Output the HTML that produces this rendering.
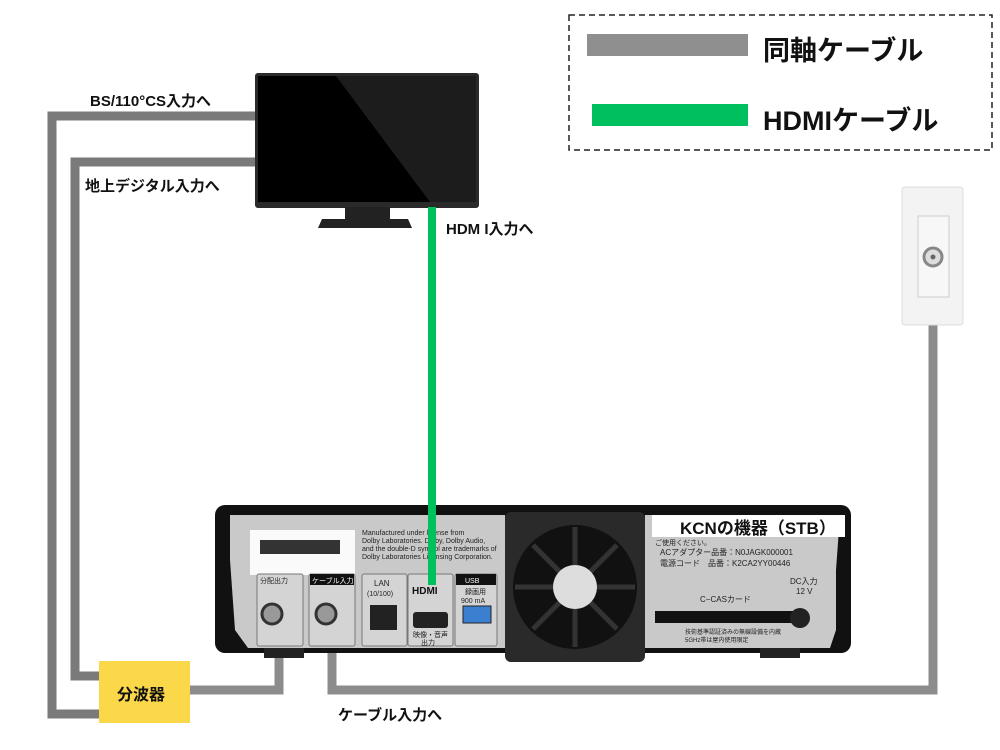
<!DOCTYPE html>
<html><head><meta charset="utf-8"><style>
body{margin:0;width:1000px;height:750px;background:#fff;position:relative;overflow:hidden;font-family:"Liberation Sans","Noto Sans CJK JP",sans-serif;}
.t{position:absolute;font-weight:bold;color:#111;white-space:nowrap;}
</style></head><body>
<svg width="1000" height="750" style="position:absolute;left:0;top:0" font-family="Liberation Sans, Noto Sans CJK JP, sans-serif">
<!-- legend -->
<rect x="569" y="15" width="423" height="135" fill="none" stroke="#222" stroke-width="1.5" stroke-dasharray="6,4"/>
<rect x="587" y="34" width="161" height="22" fill="#8f8f8f"/>
<rect x="592" y="104" width="156" height="22" fill="#00bf5f"/>
<!-- coax cables -->
<g fill="none" stroke="#7a7a7a" stroke-width="9">
<polyline points="258,116 52,116 52,714 102,714"/>
<polyline points="258,162 75,162 75,676 102,676"/>
</g>
<g fill="none" stroke="#8c8c8c" stroke-width="9">
<polyline points="188,690 279,690 279,620"/>
<polyline points="332,620 332,690 933,690 933,262"/>
</g>
<!-- wall plate -->
<rect x="902" y="187" width="61" height="138" rx="3" fill="#f3f3f3" stroke="#ddd"/>
<rect x="918" y="216" width="31" height="81" fill="#f7f7f7" stroke="#ccc"/>
<circle cx="933" cy="257" r="9" fill="#ddd" stroke="#888" stroke-width="3"/>
<circle cx="933" cy="257" r="2.5" fill="#666"/>
<!-- TV -->
<rect x="255" y="73" width="224" height="135" rx="3" fill="#2a2a2a"/>
<rect x="258" y="76" width="218" height="126" fill="#000"/>
<polygon points="336,76 476,76 476,202 430,202" fill="#1c1c1c"/>
<rect x="345" y="207" width="45" height="12" fill="#222"/>
<polygon points="322,219 408,219 412,228 318,228" fill="#222"/>
<!-- STB -->
<rect x="215" y="505" width="636" height="148" rx="10" fill="#111"/>
<rect x="264" y="648" width="40" height="10" fill="#222"/>
<rect x="760" y="648" width="40" height="10" fill="#222"/>
<polygon points="230,515 505,515 505,648 248,648 235,630 230,560" fill="#c9c9c9"/>
<polygon points="645,515 840,515 836,570 836,630 830,648 645,648" fill="#c9c9c9"/>
<rect x="505" y="512" width="140" height="150" rx="6" fill="#2a2a2a"/>
<circle cx="575" cy="587" r="62" fill="#111"/>
<g stroke="#333" stroke-width="5">
<line x1="575" y1="587" x2="575" y2="527"/><line x1="575" y1="587" x2="635" y2="587"/><line x1="575" y1="587" x2="575" y2="647"/><line x1="575" y1="587" x2="515" y2="587"/>
<line x1="575" y1="587" x2="617" y2="545"/><line x1="575" y1="587" x2="533" y2="629"/><line x1="575" y1="587" x2="617" y2="629"/><line x1="575" y1="587" x2="533" y2="545"/>
</g>
<circle cx="575" cy="587" r="22" fill="#ddd"/>
<rect x="250" y="530" width="105" height="45" fill="#fafafa"/>
<rect x="260" y="540" width="80" height="14" fill="#333"/>
<g fill="#d4d4d4" stroke="#777">
<rect x="257" y="574" width="46" height="72" rx="2"/>
<rect x="309" y="574" width="46" height="72" rx="2"/>
<rect x="362" y="574" width="45" height="72" rx="2"/>
<rect x="408" y="574" width="45" height="72" rx="2"/>
<rect x="455" y="574" width="42" height="72" rx="2"/>
</g>
<rect x="310" y="574" width="44" height="11" fill="#111"/>
<rect x="456" y="574" width="40" height="11" fill="#111"/>
<circle cx="272" cy="614" r="10" fill="#999" stroke="#333" stroke-width="3"/>
<circle cx="326" cy="614" r="10" fill="#999" stroke="#333" stroke-width="3"/>
<rect x="370" y="605" width="27" height="25" fill="#222"/>
<rect x="413" y="612" width="35" height="16" rx="3" fill="#222"/>
<rect x="463" y="606" width="28" height="17" fill="#3a7fd0" stroke="#222"/>
<rect x="655" y="611" width="140" height="12" fill="#111"/>
<circle cx="800" cy="618" r="10" fill="#222"/>
<rect x="652" y="515" width="193" height="22" fill="#fff"/>
<g font-size="7" fill="#222">
<text x="362" y="535">Manufactured under license from</text>
<text x="362" y="543">Dolby Laboratories. Dolby, Dolby Audio,</text>
<text x="362" y="551">and the double-D symbol are trademarks of</text>
<text x="362" y="559">Dolby Laboratories Licensing Corporation.</text>
<text x="260" y="583">分配出力</text><text x="312" y="583" fill="#fff">ケーブル入力</text>
<text x="374" y="586" font-size="8">LAN</text><text x="367" y="596">(10/100)</text>
<text x="465" y="583" fill="#fff">USB</text><text x="465" y="594">録画用</text><text x="461" y="603">900 mA</text>
<text x="413" y="637">映像・音声</text><text x="421" y="645">出力</text>
<text x="655" y="545">ご使用ください。</text>
<text x="660" y="555" font-size="8">ACアダプター品番：N0JAGK000001</text>
<text x="660" y="566" font-size="8">電源コード　品番：K2CA2YY00446</text>
<text x="700" y="602" font-size="8">C−CASカード</text>
<text x="790" y="584" font-size="8">DC入力</text><text x="796" y="594" font-size="8">12 V</text>
<text x="685" y="634" font-size="6">技術基準認証済みの無線設備を内蔵</text>
<text x="685" y="642" font-size="6">5GHz帯は屋内使用限定</text>
</g>
<text x="412" y="594" font-size="10" font-weight="bold" fill="#111">HDMI</text>
<!-- HDMI cable -->
<rect x="428" y="207" width="8" height="378" fill="#00bf5f"/>
<!-- splitter -->
<rect x="99" y="661" width="91" height="62" fill="#fbd74a"/>
</svg>
<div class="t" style="left:763px;top:29px;font-size:27px">同軸ケーブル</div>
<div class="t" style="left:763px;top:99px;font-size:27px">HDMIケーブル</div>
<div class="t" style="left:90px;top:90px;font-size:15px">BS/110°CS入力へ</div>
<div class="t" style="left:85px;top:175px;font-size:15px">地上デジタル入力へ</div>
<div class="t" style="left:446px;top:218px;font-size:15px">HDM I入力へ</div>
<div class="t" style="left:117px;top:681px;font-size:16px">分波器</div>
<div class="t" style="left:338px;top:704px;font-size:15px">ケーブル入力へ</div>
<div class="t" style="left:680px;top:514px;font-size:17px">KCNの機器（STB）</div>
</body></html>
